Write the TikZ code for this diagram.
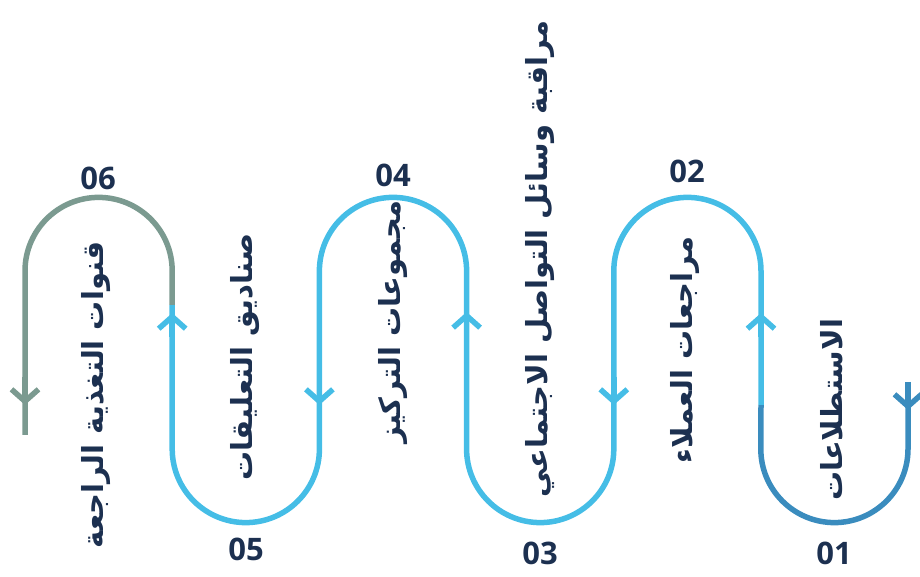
\documentclass[tikz,border=0pt]{standalone}
\usepackage{fontspec}
\usetikzlibrary{arrows.meta}
\TeXXeTstate=1
\newfontfamily\arabicfont[Script=Arabic]{DejaVu Sans}
\newfontfamily\numfont{Open Sans}
\definecolor{pathblue}{HTML}{45BDE6}
\definecolor{pathdark}{HTML}{3A8CBE}
\definecolor{pathgrey}{HTML}{7B9A90}
\definecolor{labelnavy}{HTML}{1C3050}
\tikzset{
  wave/.style={line width=5.5pt},
  barb/.style={wave,-{Straight Barb[length=12pt,width=27pt]}},
  numlabel/.style={text=labelnavy,font=\numfont\bfseries\fontsize{31}{31}\selectfont},
  steptext/.style={text=labelnavy,rotate=90,font=\arabicfont\bfseries\fontsize{29}{29}\selectfont}
}
\begin{document}
\begin{tikzpicture}[x=1pt,y=1pt]
\useasboundingbox (0,0) rectangle (920,577);

% 01
\draw[wave,pathdark] (908,192) -- (908,128) arc (0:-180:73.6) -- (761,172);
\draw[barb,pathdark] (908,195) -- (908,167);

% 02 to 05
\draw[wave,pathblue] (761,172) -- (761,306) arc (0:180:73.6) -- (613.8,128)
  arc (0:-180:73.6) -- (466.6,306) arc (0:180:73.6) -- (319.4,128)
  arc (0:-180:73.6) -- (172.2,272);
\draw[barb,pathblue] (761,240) -- (761,264);
\draw[barb,pathblue] (613.8,200) -- (613.8,172);
\draw[barb,pathblue] (466.6,240) -- (466.6,265);
\draw[barb,pathblue] (319.4,200) -- (319.4,172);
\draw[barb,pathblue] (172.2,240) -- (172.2,264);

% 06
\draw[wave,pathgrey] (172.2,272) -- (172.2,306) arc (0:180:73.6) -- (25,142);
\draw[barb,pathgrey] (25,200) -- (25,172);

\node[numlabel] (n01) at (834,24) {01};
\node[numlabel] (n02) at (687,406) {02};
\node[numlabel] (n03) at (540,24) {03};
\node[numlabel] (n04) at (393,402) {04};
\node[numlabel] (n05) at (246,28) {05};
\node[numlabel] (n06) at (98,399) {06};

\node[steptext] (t01) at (832,167) {\beginR الاستطلاعات\endR};
\node[steptext] (t02) at (685,227) {\beginR مراجعات العملاء\endR};
\node[steptext] (t03) at (540,318) {\beginR مراقبة وسائل التواصل الاجتماعي\endR};
\node[steptext] (t04) at (393,255) {\beginR مجموعات التركيز\endR};
\node[steptext] (t05) at (245,220) {\beginR صناديق التعليقات\endR};
\node[steptext] (t06) at (96,182) {\beginR قنوات التغذية الراجعة\endR};

\end{tikzpicture}
\end{document}
